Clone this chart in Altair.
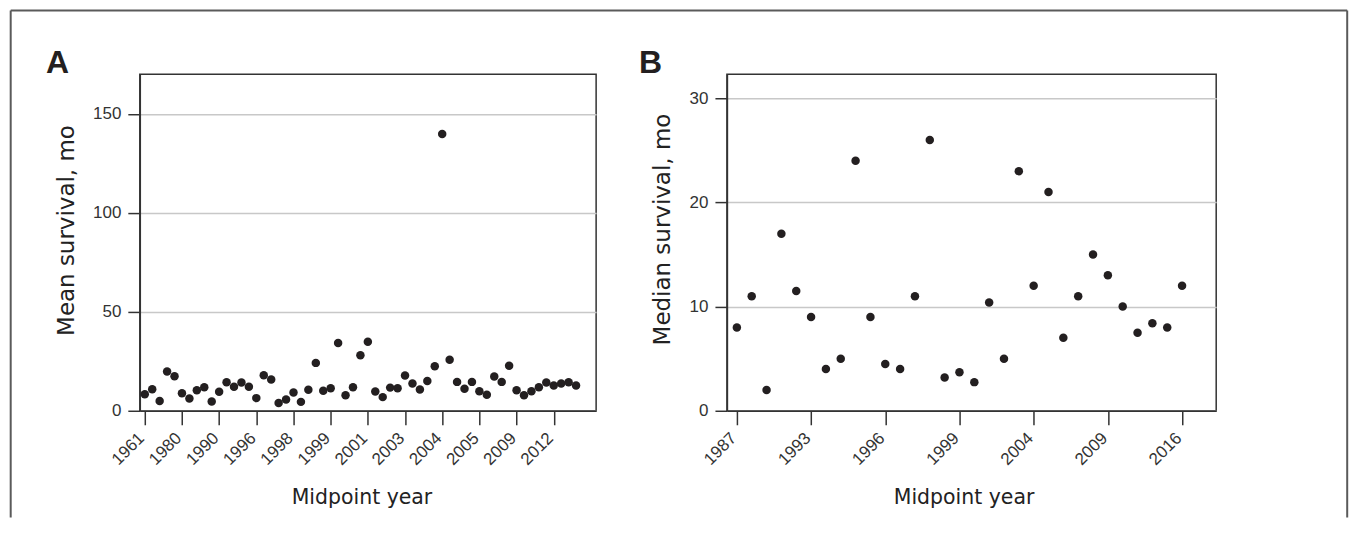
import json
import altair as alt
import pandas as pd

# ---- data ----
a_values = [8.4, 10.9, 4.9, 19.8, 17.4, 8.9, 6.2, 10.4, 11.9, 4.7,
            9.6, 14.4, 12.1, 14.3, 12.1, 6.4, 18.0, 15.8, 3.9, 5.7,
            9.2, 4.5, 10.6, 24.2, 10.1, 11.4, 34.2, 7.9, 11.9, 28.0,
            34.9, 9.7, 6.9, 11.7, 11.4, 17.8, 13.8, 10.7, 15.1, 22.5,
            139.8, 25.8, 14.6, 11.1, 14.6, 9.9, 8.1, 17.3, 14.6, 22.8,
            10.4, 7.9, 9.9, 11.9, 14.3, 12.8, 13.8, 14.4, 12.8]
a_tick_labels = ["1961", "1980", "1990", "1996", "1998", "1999",
                 "2001", "2003", "2004", "2005", "2009", "2012"]
a_y_ticks = [0, 50, 100, 150]

b_values = [8.0, 11.0, 2.0, 17.0, 11.5, 9.0, 4.0, 5.0, 24.0, 9.0,
            4.5, 4.0, 11.0, 26.0, 3.2, 3.7, 2.75, 10.4, 5.0, 23.0,
            12.0, 21.0, 7.0, 11.0, 15.0, 13.0, 10.0, 7.5, 8.4, 8.0, 12.0]
b_tick_labels = ["1987", "1993", "1996", "1999", "2004", "2009", "2016"]
b_y_ticks = [0, 10, 20, 30]

panel_letters = ["A", "B"]
x_title = "Midpoint year"
a_y_title = "Mean survival, mo"
b_y_title = "Median survival, mo"

FONT = "Liberation Sans"
TFONT = "DejaVu Sans"
INK = "#231f20"


def panel(values, labels, yticks, ymax, ytitle, letter, width, xmax,
          ytitle_x, ytitle_y, xtitle_x, letter_x):
    df = pd.DataFrame({"idx": list(range(len(values))), "v": values})
    tick_vals = [i * 5 for i in range(len(labels))]
    label_expr = json.dumps(labels) + "[round(datum.value / 5)]"
    pts = alt.Chart(df).mark_circle(size=72, color=INK, opacity=1).encode(
        x=alt.X("idx:Q",
                scale=alt.Scale(domain=[-0.67, xmax], nice=False, zero=False),
                axis=alt.Axis(values=tick_vals, labelExpr=label_expr,
                              title=x_title, grid=False, labelAngle=-45,
                              labelAlign="right", labelBaseline="alphabetic",
                              labelOverlap=False,
                              tickSize=14, labelPadding=14,
                              titleFontSize=20.5,
                              titleX=xtitle_x, titleY=93,
                              titleBaseline="alphabetic")),
        y=alt.Y("v:Q",
                scale=alt.Scale(domain=[0, ymax], nice=False),
                axis=alt.Axis(values=yticks, title=ytitle, grid=True,
                              tickSize=12, labelPadding=7,
                              titleFontSize=23,
                              titleX=ytitle_x, titleY=ytitle_y,
                              titleBaseline="alphabetic")),
    )
    ldf = pd.DataFrame({"t": [letter]})
    let = alt.Chart(ldf).mark_text(
        font=FONT, fontSize=32, fontWeight="bold", color=INK,
        align="left", baseline="alphabetic"
    ).encode(text="t:N", x=alt.value(letter_x), y=alt.value(-1))
    return [pts, let], width


# outer frame (drawn in panel A's coordinates)
frame_df = pd.DataFrame({"k": [0]})
FL, FR, FT, FB = -129.3, 1209.2, -64, 444
frame_color = "#5a5a5a"
f_left = alt.Chart(frame_df).mark_rule(color=frame_color, strokeWidth=2).encode(
    x=alt.value(FL), y=alt.value(FT), y2=alt.value(FB))
f_right = alt.Chart(frame_df).mark_rule(color=frame_color, strokeWidth=2).encode(
    x=alt.value(FR), y=alt.value(FT), y2=alt.value(FB))
f_top = alt.Chart(frame_df).mark_rule(color=frame_color, strokeWidth=2).encode(
    x=alt.value(FL), x2=alt.value(FR), y=alt.value(FT))

a_layers, a_w = panel(a_values, a_tick_labels, a_y_ticks, 170, a_y_title,
                      panel_letters[0], 457, 60.7, -66.6, 156, 222, -94)
b_layers, b_w = panel(b_values, b_tick_labels, b_y_ticks, 32.3, b_y_title,
                      panel_letters[1], 490, 32.3, -57.7, 155, 237, -88)

chart_a = alt.layer(f_left, f_right, f_top, *a_layers).properties(width=a_w, height=337)
chart_b = alt.layer(*b_layers).properties(width=b_w, height=337)

chart = alt.hconcat(chart_a, chart_b, spacing=131, bounds="flush").properties(
    padding=0
).configure_view(
    stroke="#333333", strokeWidth=1.5
).configure_axis(
    labelFont=FONT, titleFont=TFONT, labelFontSize=17,
    labelColor="#333333", titleColor="#222222", titleFontWeight="normal",
    domainColor="#333333", domainWidth=1.5, tickColor="#333333", tickWidth=1.5,
    gridColor="#c8c8c8", gridWidth=1.5
)

chart.save("out.html", embed_options={"renderer": "svg", "actions": False})
